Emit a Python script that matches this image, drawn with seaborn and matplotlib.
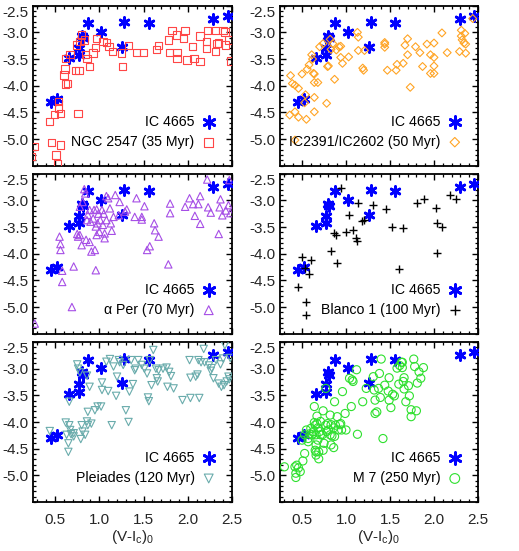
import numpy as np
import pandas as pd
import matplotlib
matplotlib.use("Agg")
import matplotlib.pyplot as plt
import seaborn as sns
from matplotlib.ticker import MultipleLocator

sns.set_theme(style="ticks")
plt.rcParams['font.family'] = ['Liberation Sans', 'DejaVu Sans']
plt.rcParams['axes.unicode_minus'] = False

# ---------------- data ----------------
ic4665_x = [0.45, 0.52, 0.66, 0.77, 0.77, 0.80, 0.81, 0.87, 1.02, 1.26, 1.28, 1.56, 2.29, 2.46]
ic4665_y = [-4.30, -4.25, -3.48, -3.43, -3.29, -3.06, -3.11, -2.83, -2.99, -3.27, -2.81, -2.83, -2.75, -2.69]

ngc2547_x = [0.23, 0.27, 0.44, 0.49, 0.54, 0.56, 0.54, 0.46, 0.56, 0.51, 0.53, 0.62, 0.64, 0.60, 0.61,
             0.62, 0.67, 0.73, 0.77, 0.76, 0.74, 0.78, 0.80, 0.83, 0.84, 0.86, 0.89, 0.93, 0.96, 0.97,
             1.04, 1.08, 1.11, 1.15, 1.25, 1.26, 1.33, 1.42, 1.50, 1.65, 1.67, 1.78, 1.79, 1.82, 1.87,
             1.88, 1.88, 1.95, 1.97, 1.99, 2.05, 2.07, 2.14, 2.14, 2.21, 2.21, 2.22, 2.31, 2.31, 2.33,
             2.35, 2.40, 2.42, 2.43, 2.46, 2.49]
ngc2547_y = [-5.33, -5.14, -4.67, -4.54, -4.30, -4.52, -4.42, -5.07, -5.11, -5.30, -5.46, -3.97, -3.96, -3.80, -3.69,
             -3.49, -3.41, -3.72, -3.72, -4.52, -3.24, -3.17, -3.05, -3.14, -3.42, -3.49, -3.64, -3.39, -3.28, -3.11,
             -3.17, -3.19, -3.27, -3.36, -3.39, -3.64, -3.25, -3.38, -3.38, -3.32, -3.25, -3.14, -3.38, -2.96, -3.05,
             -3.38, -3.49, -3.12, -2.96, -3.52, -3.26, -3.49, -3.55, -3.07, -3.17, -3.30, -2.97, -2.96, -3.36, -3.21,
             -3.20, -2.96, -2.99, -3.24, -3.14, -3.54]

ic2391_x = [0.36, 0.37, 0.39, 0.42, 0.46, 0.42, 0.46, 0.53, 0.54, 0.55, 0.50, 0.56, 0.58, 0.61, 0.62,
            0.63, 0.64, 0.64, 0.64, 0.64, 0.68, 0.70, 0.74, 0.78, 0.79, 0.80, 0.82, 0.83, 0.85, 0.87,
            0.89, 0.92, 0.94, 0.96, 0.94, 1.03, 1.13, 1.14, 1.14, 1.19, 1.20, 1.21, 1.44, 1.44, 1.44,
            1.47, 1.57, 1.58, 1.65, 1.67, 1.70, 1.70, 1.73, 1.79, 1.84, 1.87, 1.92, 1.96, 1.96, 2.00,
            2.00, 2.00, 2.00, 2.09, 2.15, 2.29, 2.31, 2.31, 2.32, 2.34, 2.35, 2.36, 2.36, 2.44, 0.42]
ic2391_y = [-4.55, -3.81, -3.96, -3.99, -4.05, -4.49, -4.59, -4.32, -4.17, -4.63, -3.78, -3.69, -3.61, -3.42, -3.50,
            -3.77, -3.78, -3.94, -4.22, -4.49, -3.94, -3.27, -3.21, -4.33, -3.64, -3.63, -3.13, -3.32, -3.21, -3.88,
            -3.33, -3.27, -3.26, -3.58, -3.47, -3.46, -3.00, -3.09, -3.34, -3.67, -3.71, -3.34, -3.19, -3.22, -3.28,
            -3.71, -3.71, -3.60, -3.58, -3.24, -3.42, -3.12, -4.03, -3.27, -3.38, -3.64, -3.22, -3.42, -3.77, -3.20,
            -3.47, -3.63, -3.77, -3.01, -3.38, -3.36, -2.96, -3.07, -3.14, -3.20, -3.02, -3.22, -3.39, -2.74, -5.02]

aper_x = [0.27, 0.55, 0.56, 0.56, 0.58, 0.58, 0.69, 0.71, 0.75, 0.76, 0.78, 0.80, 0.78, 0.81, 0.83,
          0.84, 0.85, 0.86, 0.87, 0.89, 0.89, 0.90, 0.91, 0.93, 0.94, 0.95, 0.96, 0.96, 0.97, 0.97,
          0.98, 0.99, 1.00, 1.01, 1.03, 1.04, 1.05, 1.06, 1.06, 1.08, 1.08, 1.10, 1.12, 1.13, 1.14,
          1.16, 1.18, 1.22, 1.23, 1.29, 1.31, 1.40, 1.42, 1.48, 1.48, 1.51, 1.54, 1.57, 1.62, 1.63,
          1.67, 1.78, 1.80, 1.80, 1.97, 2.02, 2.06, 2.08, 2.12, 2.14, 2.14, 2.22, 2.23, 2.26, 2.35,
          2.36, 2.37, 2.39, 2.43, 2.46, 2.47, 2.48]
aper_y = [-5.31, -3.68, -3.82, -3.93, -4.32, -4.53, -5.00, -4.24, -3.63, -3.68, -3.65, -3.84, -3.12, -3.03, -2.79,
          -2.87, -3.74, -3.37, -3.27, -3.18, -3.78, -3.40, -3.96, -3.34, -3.18, -3.93, -4.31, -3.49, -3.65, -3.17,
          -3.43, -3.25, -3.59, -3.37, -3.18, -3.46, -3.25, -3.62, -3.71, -3.37, -2.92, -2.96, -3.15, -3.43, -3.57,
          -3.31, -2.90, -3.28, -3.03, -3.21, -3.17, -3.31, -2.96, -3.31, -3.36, -3.11, -3.93, -3.86, -3.43, -3.56,
          -3.68, -4.20, -3.06, -3.24, -3.12, -2.96, -3.07, -3.29, -3.07, -2.92, -3.44, -2.61, -3.13, -3.23, -3.63,
          -3.13, -2.98, -3.28, -3.19, -3.09, -2.62, -3.24]

blanco_x = [0.45, 0.50, 0.53, 0.55, 0.55, 0.58, 0.60, 0.83, 0.86, 0.89, 0.90, 0.94, 1.00, 1.03, 1.08,
            1.11, 1.13, 1.14, 1.18, 1.21, 1.31, 1.46, 1.52, 1.60, 1.65, 1.81, 1.89, 2.02, 2.03, 2.03,
            2.09, 2.18, 2.25]
blanco_y = [-4.63, -4.06, -4.27, -4.90, -5.15, -4.38, -4.11, -3.95, -3.61, -3.65, -4.18, -2.76, -3.59, -3.28, -3.56,
            -3.71, -3.77, -3.04, -3.38, -3.36, -3.08, -3.16, -3.49, -4.29, -3.52, -3.04, -2.98, -3.14, -3.42, -3.98,
            -3.49, -2.90, -2.97]

pleiades_x = [0.44, 0.62, 0.63, 0.65, 0.65, 0.66, 0.67, 0.68, 0.71, 0.71, 0.66, 0.75, 0.76, 0.78, 0.80,
              0.79, 0.81, 0.84, 0.86, 0.86, 0.87, 0.87, 0.89, 0.91, 0.95, 0.98, 1.02, 1.03, 1.03, 1.08,
              1.10, 1.12, 1.14, 1.16, 1.19, 1.20, 1.22, 1.23, 1.27, 1.30, 1.33, 1.34, 1.38, 1.36, 1.40,
              1.41, 1.44, 1.48, 1.51, 1.54, 1.55, 1.56, 1.57, 1.59, 1.61, 1.64, 1.65, 1.66, 1.67, 1.72,
              1.76, 1.77, 1.79, 1.81, 1.84, 1.94, 2.02, 2.03, 2.03, 2.09, 2.11, 2.13, 2.12, 2.15, 2.18,
              2.19, 2.24, 2.26, 2.27, 2.29, 2.32, 2.35, 2.37, 2.38, 2.40, 2.41, 2.42, 2.44, 2.46, 2.48,
              2.47]
pleiades_y = [-4.17, -4.01, -4.24, -4.40, -4.56, -4.06, -4.15, -4.23, -4.27, -4.21, -3.62, -2.92, -3.00, -3.07, -4.06,
              -4.32, -4.18, -4.24, -3.13, -3.99, -3.81, -4.06, -3.34, -4.03, -3.78, -3.71, -3.71, -3.40, -3.26, -2.87,
              -3.42, -2.82, -4.06, -2.96, -3.51, -3.15, -2.84, -2.88, -2.93, -3.78, -4.00, -3.43, -3.29, -2.84, -3.03,
              -3.00, -2.84, -2.93, -3.00, -3.09, -3.54, -3.61, -2.84, -3.31, -2.65, -3.00, -3.18, -3.24, -3.03, -3.00,
              -2.98, -3.34, -3.06, -3.14, -3.37, -3.59, -2.84, -3.55, -3.17, -3.15, -3.11, -3.55, -2.84, -2.88, -2.63,
              -2.88, -2.94, -3.04, -2.99, -3.18, -2.84, -3.28, -2.92, -3.34, -2.81, -3.31, -2.56, -3.24, -3.15, -2.80,
              -3.20]

m7_x = [0.30, 0.42, 0.44, 0.43, 0.43, 0.46, 0.48, 0.51, 0.53, 0.50, 0.53, 0.55, 0.57, 0.57, 0.59,
        0.60, 0.61, 0.63, 0.64, 0.64, 0.65, 0.65, 0.66, 0.66, 0.66, 0.66, 0.67, 0.67, 0.68, 0.68,
        0.69, 0.69, 0.70, 0.71, 0.71, 0.73, 0.74, 0.74, 0.75, 0.77, 0.77, 0.78, 0.79, 0.80, 0.82,
        0.82, 0.83, 0.83, 0.84, 0.86, 0.86, 0.87, 0.87, 0.88, 0.90, 0.91, 0.93, 0.94, 0.96, 0.95,
        0.99, 1.00, 1.04, 1.06, 1.07, 1.08, 1.12, 1.13, 1.19, 1.23, 1.31, 1.32, 1.33, 1.33, 1.35,
        1.37, 1.38, 1.39, 1.40, 1.42, 1.44, 1.48, 1.49, 1.49, 1.51, 1.53, 1.55, 1.58, 1.60, 1.61,
        1.63, 1.64, 1.64, 1.65, 1.66, 1.66, 1.68, 1.71, 1.72, 1.74, 1.74, 1.77, 1.78, 1.80, 1.81,
        1.83, 1.85, 1.88]
m7_y = [-4.84, -4.84, -4.81, -4.96, -5.04, -4.86, -4.93, -4.73, -4.59, -4.34, -4.24, -4.15, -4.37, -4.31, -4.22,
        -4.12, -4.24, -4.18, -4.01, -3.71, -4.06, -4.53, -4.56, -4.43, -4.24, -4.62, -3.89, -4.03, -4.11, -4.34,
        -4.69, -4.56, -4.18, -4.24, -3.99, -4.24, -3.79, -4.53, -4.40, -4.06, -3.37, -4.18, -4.03, -4.15, -3.87,
        -4.24, -4.43, -4.05, -4.26, -4.48, -4.11, -3.62, -4.27, -4.06, -3.90, -4.15, -4.05, -4.03, -3.43, -4.15,
        -3.84, -4.15, -3.18, -3.71, -3.21, -3.24, -3.02, -4.23, -3.62, -3.37, -3.15, -3.40, -3.59, -3.84, -3.81,
        -3.37, -3.09, -3.54, -2.82, -4.31, -3.31, -3.42, -3.17, -3.59, -3.73, -3.48, -3.51, -2.99, -3.29, -2.94,
        -2.88, -2.88, -2.98, -3.24, -3.38, -3.17, -3.62, -3.32, -3.51, -3.90, -3.77, -2.82, -2.96, -3.79, -3.27,
        -3.06, -3.18, -2.98]

labels = ["NGC 2547 (35 Myr)", "IC2391/IC2602 (50 Myr)", "\u03b1 Per (70 Myr)",
          "Blanco 1 (100 Myr)", "Pleiades (120 Myr)", "M 7 (250 Myr)"]
xlabel = "(V-I$_\\mathregular{c}$)$_\\mathregular{0}$"
yticks = [-5.0, -4.5, -4.0, -3.5, -3.0, -2.5]
xticks = [0.5, 1.0, 1.5, 2.0, 2.5]

# ---------------- styles ----------------
panels = [
    (ngc2547_x, ngc2547_y, 's', '#ff4646', 28, True),
    (ic2391_x, ic2391_y, 'D', '#ffa424', 16, True),
    (aper_x, aper_y, '^', '#a64ee6', 28, True),
    (blanco_x, blanco_y, '+', '#000000', 32, False),
    (pleiades_x, pleiades_y, 'v', '#6aacac', 28, True),
    (m7_x, m7_y, 'o', '#2ee02e', 34, True),
]

W, H = 519, 551
fig = plt.figure(figsize=(W / 100, H / 100), dpi=100)
col_left = [33, 280]
col_w = [199, 198]
row_top = [5.7, 173.7, 342.0]
row_h = 160

ast = (6, 2, 0)
for i, (px, py, mk, col, sz, filled) in enumerate(panels):
    r, c = divmod(i, 2)
    rect = [col_left[c] / W, (H - row_top[r] - row_h) / H, col_w[c] / W, row_h / H]
    ax = fig.add_axes(rect)
    sns.scatterplot(x=ic4665_x, y=ic4665_y, marker=ast, s=50, color='#0000ff',
                    edgecolor='#0000ff', linewidth=2.0, ax=ax, label="IC 4665", zorder=3)
    if filled:
        sns.scatterplot(x=px, y=py, marker=mk, s=sz, facecolor='none', edgecolor=col,
                        linewidth=0.8, ax=ax, label=labels[i], zorder=4)
    else:
        sns.scatterplot(x=px, y=py, marker=mk, s=sz, color=col, edgecolor=col,
                        linewidth=1.0, ax=ax, label=labels[i], zorder=4)
    ax.set_xlim(0.25, 2.5)
    ax.set_ylim(-5.5, -2.5)
    ax.set_xticks(xticks)
    ax.set_yticks(yticks, labels=[f"{v:.1f}" for v in yticks])
    ax.xaxis.set_minor_locator(MultipleLocator(0.1))
    ax.yaxis.set_minor_locator(MultipleLocator(0.1))
    ax.tick_params(which='both', direction='in', top=True, right=True, color='black')
    ax.tick_params(which='major', length=4.5, width=1.0, labelsize=11, pad=3)
    ax.tick_params(which='minor', length=2.5, width=0.9)
    ax.tick_params(axis='x', which='major', pad=8)
    for sp in ax.spines.values():
        sp.set_linewidth(1.3)
        sp.set_color('black')
    ax.get_yticklabels()[-1].set_verticalalignment('top')
    if r == 2:
        ax.set_xticklabels([f"{v:.1f}" for v in xticks])
        ax.set_xlabel(xlabel, fontsize=11, labelpad=1)
    else:
        ax.set_xticklabels([])
        ax.set_xlabel("")
    ax.set_ylabel("")
    leg = ax.legend(loc='lower right', bbox_to_anchor=(0.915, 0.105), frameon=False,
                    markerfirst=False, fontsize=10.2, handlelength=0.9, handletextpad=0.55,
                    labelspacing=0.45, borderpad=0, borderaxespad=0, markerscale=1.2)
    for t in leg.get_texts():
        t.set_color('black')

fig.savefig("out.png", dpi=100)
